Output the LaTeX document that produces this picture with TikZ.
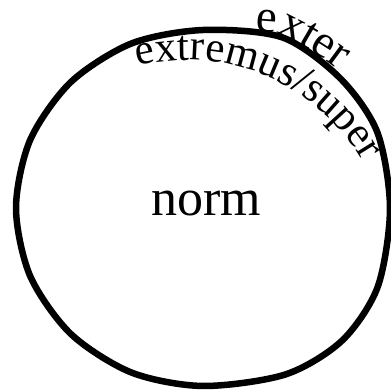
\documentclass[tikz,border=0pt]{standalone}
\usepackage{fontspec}
\setmainfont{Liberation Serif}
\usetikzlibrary{decorations.text}
\tikzset{
  ring/.style={line width=6.5pt, line join=round},
  curvedtext/.style={decorate, decoration={text along path, text={#1}}}
}
\begin{document}
\begin{tikzpicture}[x=1pt,y=1pt]
\useasboundingbox (0,0) rectangle (391,392);
\fill[white] (0,0) rectangle (391,392);
\draw[ring] plot[smooth cycle] coordinates {
 (390,184) (377.8,105.4) (342.2,51.5) (285.6,17.6) (203,6)
 (131.4,19.5) (70.8,58.1) (30.2,115.9) (16,184) (30.2,252.1)
 (70.8,309.9) (131.4,348.5) (203,362) (282.6,354.5) (340.4,313.5)
 (377.3,259.8)};
\node[font=\fontsize{52}{52}\selectfont, anchor=base, inner sep=0pt] (norm) at (206,176) {norm};
\path[curvedtext={|\fontsize{43}{43}\selectfont|extremus/super}]
  (187,129) ++(104:203pt) arc[start angle=104, end angle=-10, radius=203pt];
\path[curvedtext={|\fontsize{47}{47}\selectfont|exter}]
  plot[smooth] coordinates {(255,360) (284.2,355.5) (343.1,317.4) (380.8,261.3) (395,200)};
\end{tikzpicture}
\end{document}
